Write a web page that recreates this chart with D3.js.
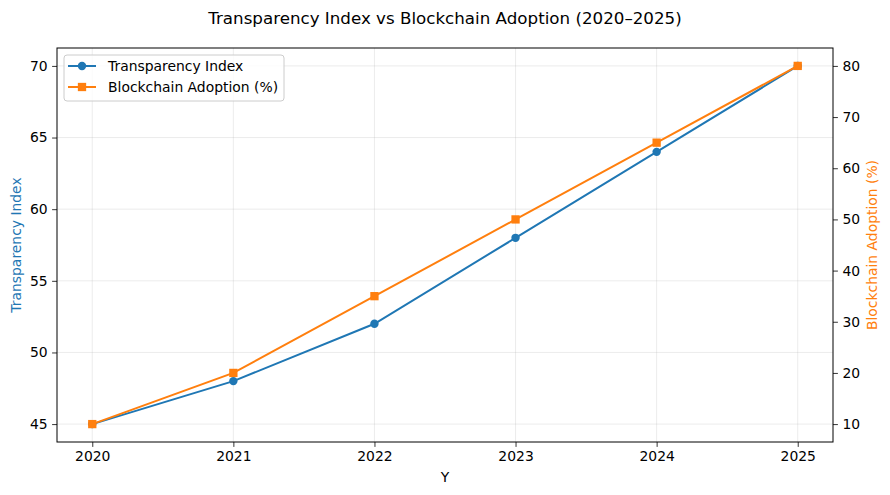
<!DOCTYPE html>
<html>
<head>
<meta charset="utf-8">
<script src="https://cdn.jsdelivr.net/npm/d3@7"></script>
<style>
  body { margin: 0; background: #fff; }
  text { font-family: "DejaVu Sans", sans-serif; }
</style>
</head>
<body>
<div id="chart"></div>
<script>
// Chart data
const years = [2020, 2021, 2022, 2023, 2024, 2025];
const transparency = [45, 48, 52, 58, 64, 70];
const adoption = [10, 20, 35, 50, 65, 80];
const leftTicks = [45, 50, 55, 60, 65, 70];
const rightTicks = [10, 20, 30, 40, 50, 60, 70, 80];

const W = 890, H = 495;
const margin = { left: 57, right: 57, top: 48, bottom: 53 };
const width = W - margin.left - margin.right;
const height = H - margin.top - margin.bottom;
const blue = '#1f77b4', orange = '#ff7f0e';

const svg = d3.select('#chart').append('svg')
    .attr('width', W)
    .attr('height', H);

const g = svg.append('g')
    .attr('transform', `translate(${margin.left},${margin.top})`);

// Scales (matplotlib-like 5% padding)
const x = d3.scaleLinear().domain([2019.75, 2025.25]).range([0, width]);
const yL = d3.scaleLinear().domain([43.75, 71.25]).range([height, 0]);
const yR = d3.scaleLinear().domain([6.5, 83.5]).range([height, 0]);

// Grid
g.append('g')
    .selectAll('line')
    .data(years)
    .join('line')
    .attr('x1', d => x(d)).attr('x2', d => x(d))
    .attr('y1', 0).attr('y2', height)
    .attr('stroke', '#b0b0b0').attr('stroke-opacity', 0.3).attr('stroke-width', 0.8);

g.append('g')
    .selectAll('line')
    .data(leftTicks)
    .join('line')
    .attr('x1', 0).attr('x2', width)
    .attr('y1', d => yL(d)).attr('y2', d => yL(d))
    .attr('stroke', '#b0b0b0').attr('stroke-opacity', 0.3).attr('stroke-width', 0.8);

// Axes
function styleAxis(sel) {
    sel.select('.domain').remove();
    sel.selectAll('line').attr('stroke', '#000').attr('stroke-width', 0.8);
    sel.selectAll('text').style('font-size', '13.9px').attr('fill', '#000');
}

g.append('g')
    .attr('transform', `translate(0,${height})`)
    .call(d3.axisBottom(x).tickValues(years).tickFormat(d3.format('d')).tickSize(4.9).tickPadding(4.5))
    .call(styleAxis);

g.append('g')
    .call(d3.axisLeft(yL).tickValues(leftTicks).tickSize(4.9).tickPadding(4.5))
    .call(styleAxis);

g.append('g')
    .attr('transform', `translate(${width},0)`)
    .call(d3.axisRight(yR).tickValues(rightTicks).tickSize(4.9).tickPadding(4.5))
    .call(styleAxis);

// Frame
g.append('rect')
    .attr('width', width).attr('height', height)
    .attr('fill', 'none').attr('stroke', '#000').attr('stroke-width', 1);

// Lines
const lineL = d3.line().x((d, i) => x(years[i])).y(d => yL(d));
const lineR = d3.line().x((d, i) => x(years[i])).y(d => yR(d));

g.append('path')
    .datum(transparency)
    .attr('fill', 'none').attr('stroke', blue).attr('stroke-width', 2)
    .attr('d', lineL);

g.selectAll('.dotL')
    .data(transparency)
    .join('circle')
    .attr('class', 'dotL')
    .attr('cx', (d, i) => x(years[i]))
    .attr('cy', d => yL(d))
    .attr('r', 4.2)
    .attr('fill', blue);

g.append('path')
    .datum(adoption)
    .attr('fill', 'none').attr('stroke', orange).attr('stroke-width', 2)
    .attr('d', lineR);

const sq = 8.3;
g.selectAll('.dotR')
    .data(adoption)
    .join('rect')
    .attr('class', 'dotR')
    .attr('x', (d, i) => x(years[i]) - sq / 2)
    .attr('y', d => yR(d) - sq / 2)
    .attr('width', sq).attr('height', sq)
    .attr('fill', orange);

// Legend
const legend = g.append('g').attr('transform', 'translate(7,7)');
legend.append('rect')
    .attr('width', 220).attr('height', 46)
    .attr('rx', 3)
    .attr('fill', '#fff').attr('fill-opacity', 0.8)
    .attr('stroke', '#cccccc').attr('stroke-width', 1);

const entries = [
    { label: 'Transparency Index', color: blue, marker: 'circle' },
    { label: 'Blockchain Adoption (%)', color: orange, marker: 'square' }
];
entries.forEach((e, i) => {
    const yy = 11 + i * 21;
    const row = legend.append('g').attr('transform', `translate(0,${yy})`);
    row.append('line')
        .attr('x1', 4).attr('x2', 32).attr('y1', 0).attr('y2', 0)
        .attr('stroke', e.color).attr('stroke-width', 2);
    if (e.marker === 'circle') {
        row.append('circle').attr('cx', 18).attr('cy', 0).attr('r', 4.2).attr('fill', e.color);
    } else {
        row.append('rect').attr('x', 18 - sq / 2).attr('y', -sq / 2)
            .attr('width', sq).attr('height', sq).attr('fill', e.color);
    }
    row.append('text')
        .attr('x', 44).attr('y', 0).attr('dy', '0.35em')
        .style('font-size', '13.9px')
        .text(e.label);
});

// Labels
svg.append('text')
    .attr('x', W / 2).attr('y', 18).attr('dy', '0.35em')
    .attr('text-anchor', 'middle')
    .style('font-size', '16.7px')
    .text('Transparency Index vs Blockchain Adoption (2020–2025)');

svg.append('text')
    .attr('x', margin.left + width / 2).attr('y', 477).attr('dy', '0.35em')
    .attr('text-anchor', 'middle')
    .style('font-size', '13.9px')
    .text('Y');

svg.append('text')
    .attr('transform', `translate(16,${margin.top + height / 2}) rotate(-90)`)
    .attr('dy', '0.35em')
    .attr('text-anchor', 'middle')
    .attr('fill', blue)
    .style('font-size', '13.9px')
    .text('Transparency Index');

svg.append('text')
    .attr('transform', `translate(872,${margin.top + height / 2}) rotate(-90)`)
    .attr('dy', '0.35em')
    .attr('text-anchor', 'middle')
    .attr('fill', orange)
    .style('font-size', '13.9px')
    .text('Blockchain Adoption (%)');
</script>
</body>
</html>
